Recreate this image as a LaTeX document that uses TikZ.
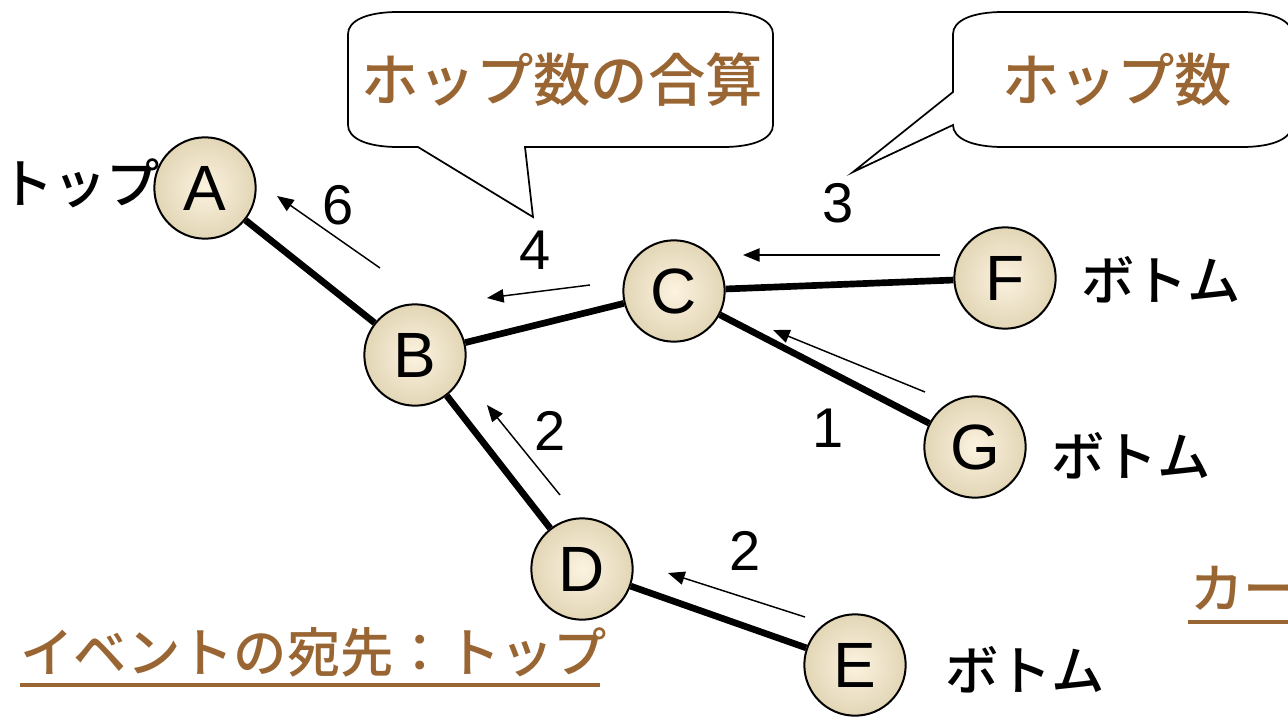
\documentclass[tikz,border=0pt]{standalone}
\usepackage{fontspec}
\setmainfont{Liberation Sans}
\newfontfamily\jpfont{Noto Sans CJK JP}[BoldFont={Noto Sans CJK JP Medium}]
\usetikzlibrary{arrows.meta}

\definecolor{hopbrown}{RGB}{153,102,51}
\definecolor{nodein}{RGB}{252,243,224}
\definecolor{nodeout}{RGB}{226,214,182}

\tikzset{every picture/.style={line width=0.75pt}}
\tikzset{
	hopnode/.style={circle, draw, line width=1.5pt, minimum size=76pt, inner sep=0pt,
		inner color=nodein, outer color=nodeout, font=\fontsize{48}{48}\selectfont},
	treeline/.style={line width=5pt},
	hoparrow/.style={line width=1.1pt, -{Triangle[length=12.5pt,width=10pt]}},
	numlabel/.style={font=\fontsize{42}{42}\selectfont},
	endlabel/.style={font=\jpfont\bfseries\fontsize{40}{40}\selectfont},
	calltext/.style={text=hopbrown, font=\jpfont\bfseries\fontsize{43}{43}\selectfont},
	calloutbox/.style={draw, line width=1.3pt, fill=white}
}

\begin{document}
\begin{tikzpicture}[x=0.75pt,y=0.75pt,yscale=-1,xscale=1]
		\path[use as bounding box] (0,0) rectangle (1288,721);

		%Shape: Callout [hop sum]
		\draw[calloutbox] (418,147) -- (533,217) -- (525,147) -- (723,147) .. controls (755,147) and (773,138) .. (773,125) -- (773,34) .. controls (773,21) and (755,12) .. (723,12) -- (398,12) .. controls (366,12) and (348,21) .. (348,34) -- (348,125) .. controls (348,138) and (366,147) .. (398,147) -- cycle ;
		\node[calltext] (sumtext) at (562,80) {ホップ数の合算};

		%Shape: Callout [hop count]
		\draw[calloutbox] (953,125) -- (853,172) -- (953,92) -- (953,34) .. controls (953,21) and (971,12) .. (1003,12) -- (1242,12) .. controls (1274,12) and (1292,21) .. (1292,34) -- (1292,125) .. controls (1292,138) and (1274,147) .. (1242,147) -- (1003,147) .. controls (971,147) and (953,138) .. (953,125) -- cycle ;
		\node[calltext] (counttext) at (1117,80) {ホップ数};

		%Nodes
		\node[hopnode] (A) at (205,188) {A};
		\node[hopnode] (B) at (415,355) {B};
		\node[hopnode] (C) at (674,291) {C};
		\node[hopnode] (D) at (582,569) {D};
		\node[hopnode] (E) at (855,665) {E};
		\node[hopnode] (F) at (1005,278) {F};
		\node[hopnode] (G) at (975,447) {G};

		%Tree edges
		\draw[treeline] (A) -- (B) ;
		\draw[treeline] (B) -- (C) ;
		\draw[treeline] (B) -- (D) ;
		\draw[treeline] (C) -- (F) ;
		\draw[treeline] (C) -- (G) ;
		\draw[treeline] (D) -- (E) ;

		%Hop arrows
		\coordinate (ab1) at (380,268); \coordinate (ab2) at (277,196);
		\coordinate (bc1) at (590,285); \coordinate (bc2) at (487,298);
		\coordinate (cf1) at (940,255); \coordinate (cf2) at (743,255);
		\coordinate (cg1) at (925,392); \coordinate (cg2) at (773,330);
		\coordinate (bd1) at (560,495); \coordinate (bd2) at (487,405);
		\coordinate (de1) at (805,617); \coordinate (de2) at (668,573);
		\draw[hoparrow] (ab1) -- (ab2) ;
		\draw[hoparrow] (bc1) -- (bc2) ;
		\draw[hoparrow] (cf1) -- (cf2) ;
		\draw[hoparrow] (cg1) -- (cg2) ;
		\draw[hoparrow] (bd1) -- (bd2) ;
		\draw[hoparrow] (de1) -- (de2) ;

		%Hop numbers
		\node[numlabel] (nab) at (338,205) {6};
		\node[numlabel] (nbc) at (535,250) {4};
		\node[numlabel] (ncf) at (838,203) {3};
		\node[numlabel] (ncg) at (828,428) {1};
		\node[numlabel] (nbd) at (550,431) {2};
		\node[numlabel] (nde) at (745,551) {2};

		%Top and bottom labels
		\node[endlabel] (toplabel) at (80,183) {トップ};
		\node[endlabel] (botF) at (1161,280) {ボトム};
		\node[endlabel] (botG) at (1131,456) {ボトム};
		\node[endlabel] (botE) at (1025,670) {ボトム};

		%Underlined texts
		\node[calltext, font=\jpfont\bfseries\fontsize{40}{40}\selectfont, anchor=base west, inner sep=0pt] (dest) at (20,672) {イベントの宛先：トップ};
		\draw[hopbrown, line width=3pt] (20,685) -- (600,685) ;
		\node[calltext, font=\jpfont\bfseries\fontsize{40}{40}\selectfont, anchor=base west, inner sep=0pt] (kaa) at (1190,608) {カー};
		\draw[hopbrown, line width=3pt] (1188,622) -- (1288,622) ;

		\end{tikzpicture}
\end{document}
